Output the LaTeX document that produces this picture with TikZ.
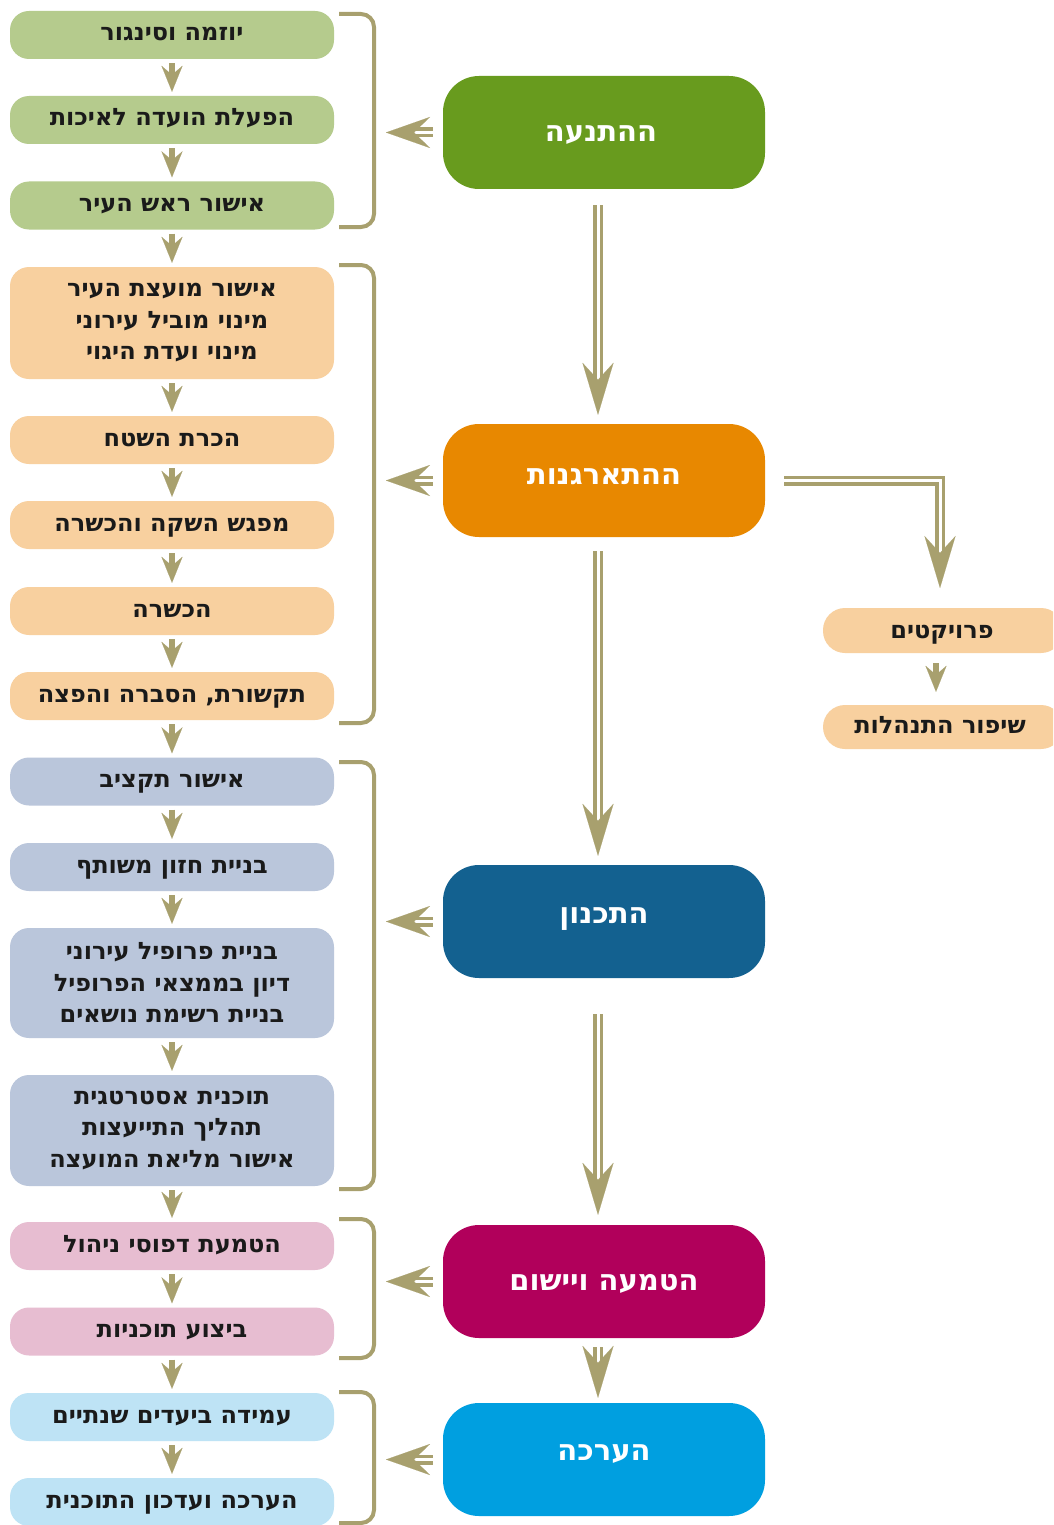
\documentclass[tikz,border=0pt]{standalone}
\usepackage{fontspec}
\usetikzlibrary{arrows.meta}
\TeXXeTstate=1
\newfontfamily\heb[Script=Hebrew]{DejaVu Sans}
\newcommand{\hebt}[1]{\beginR #1\endR}
\definecolor{lgreen}{HTML}{B5CB8D}
\definecolor{lorange}{HTML}{F8D09F}
\definecolor{lblue}{HTML}{BAC6DB}
\definecolor{lpink}{HTML}{E7BDD1}
\definecolor{lcyan}{HTML}{BEE3F5}
\definecolor{khaki}{HTML}{A8A06E}
\definecolor{mgreen}{HTML}{689B1E}
\definecolor{morange}{HTML}{E88800}
\definecolor{mblue}{HTML}{136190}
\definecolor{mmag}{HTML}{B1005B}
\definecolor{mcyan}{HTML}{009FE0}
\definecolor{txt}{HTML}{1A1A1A}
\begin{document}
\begin{tikzpicture}[x=1pt,y=-1pt,
  sbox/.style={rounded corners=19pt, minimum width=324pt, inner sep=0pt, draw=none,
    text=txt, font=\heb\bfseries\fontsize{24}{31.5}\selectfont, align=center},
  one/.style={sbox, minimum height=48pt, text height=12pt, text depth=0pt},
  three/.style={sbox, minimum height=#1},
  mbox/.style={rounded corners=36pt, minimum width=322pt, minimum height=113pt, inner sep=0pt},
  mtext/.style={anchor=base, text=white, font=\heb\bfseries\fontsize{29}{34}\selectfont, inner sep=0pt},
  pbox/.style={rounded corners=22pt, minimum width=240pt, inner sep=0pt, fill=lorange},
  ptext/.style={anchor=base, text=txt, font=\heb\bfseries\fontsize{24}{31.5}\selectfont, inner sep=0pt},
  smallarr/.style={draw=khaki, line width=6pt, shorten <=4pt, shorten >=4pt,
    -{Stealth[length=26pt, width=21pt, inset=9pt, line width=0.1pt]}},
  bigarr/.style={draw=khaki, double=white, double distance=3pt, line width=3.5pt,
    -{Stealth[length=52pt, width=31pt, inset=17pt, line width=0.1pt]}},
  leftarr/.style={draw=khaki, double=white, double distance=3pt, line width=3.5pt, shorten <=10pt,
    -{Stealth[length=44pt, width=31pt, inset=16pt, line width=0.1pt]}},
  brk/.style={draw=khaki, line width=4pt, rounded corners=13pt}
]
\clip (0,0) rectangle (1053,1525);
\fill[white] (0,0) rectangle (1053,1525);

% left column boxes
\node[one, fill=lgreen] (b1) at (172,35) {\hebt{יוזמה וסינגור}};
\node[one, fill=lgreen] (b2) at (172,120) {\hebt{הפעלת הועדה לאיכות}};
\node[one, fill=lgreen] (b3) at (172,205.5) {\hebt{אישור ראש העיר}};
\node[three=112pt, fill=lorange] (b4) at (172,323) {\hebt{אישור מועצת העיר}\\\hebt{מינוי מוביל עירוני}\\\hebt{מינוי ועדת היגוי}};
\node[one, fill=lorange] (b5) at (172,440) {\hebt{הכרת השטח}};
\node[one, fill=lorange] (b6) at (172,525) {\hebt{מפגש השקה והכשרה}};
\node[one, fill=lorange] (b7) at (172,611) {\hebt{הכשרה}};
\node[one, fill=lorange] (b8) at (172,696) {\hebt{תקשורת, הסברה והפצה}};
\node[one, fill=lblue] (b9) at (172,781.5) {\hebt{אישור תקציב}};
\node[one, fill=lblue] (b10) at (172,867) {\hebt{בניית חזון משותף}};
\node[three=110pt, fill=lblue] (b11) at (172,983) {\hebt{בניית פרופיל עירוני}\\\hebt{דיון בממצאי הפרופיל}\\\hebt{בניית רשימת נושאים}};
\node[three=111pt, fill=lblue] (b12) at (172,1130.5) {\hebt{תוכנית אסטרטגית}\\\hebt{תהליך התייעצות}\\\hebt{אישור מליאת המועצה}};
\node[one, fill=lpink] (b13) at (172,1246) {\hebt{הטמעת דפוסי ניהול}};
\node[one, fill=lpink] (b14) at (172,1331.5) {\hebt{ביצוע תוכניות}};
\node[one, fill=lcyan] (b15) at (172,1417) {\hebt{עמידה ביעדים שנתיים}};
\node[one, fill=lcyan] (b16) at (172,1502) {\hebt{הערכה ועדכון התוכנית}};

\foreach \a/\b in {b1/b2,b2/b3,b3/b4,b4/b5,b5/b6,b6/b7,b7/b8,b8/b9,b9/b10,b10/b11,b11/b12,b12/b13,b13/b14,b14/b15,b15/b16}
  \draw[smallarr] (\a) -- (\b);

% brackets
\draw[brk] (339,14) -- (374,14) -- (374,227) -- (339,227);
\draw[brk] (339,265) -- (374,265) -- (374,723) -- (339,723);
\draw[brk] (339,762) -- (374,762) -- (374,1189) -- (339,1189);
\draw[brk] (339,1219) -- (374,1219) -- (374,1358) -- (339,1358);
\draw[brk] (339,1392) -- (374,1392) -- (374,1523) -- (339,1523);

% main boxes
\node[mbox, fill=mgreen] (m1) at (604,132.5) {};
\node[mbox, fill=morange] (m2) at (604,480.5) {};
\node[mbox, fill=mblue] (m3) at (604,921.5) {};
\node[mbox, fill=mmag] (m4) at (604,1281.5) {};
\node[mbox, fill=mcyan] (m5) at (604,1459.5) {};
\node[mtext] (t1) at (601,142) {\hebt{ההתנעה}};
\node[mtext] (t2) at (604,484) {\hebt{ההתארגנות}};
\node[mtext] (t3) at (604,923) {\hebt{התכנון}};
\node[mtext] (t4) at (604,1290) {\hebt{הטמעה ויישום}};
\node[mtext] (t5) at (604,1460) {\hebt{הערכה}};

% vertical big arrows
\coordinate (ax) at (598,0);
\draw[bigarr, shorten <=16pt, shorten >=9pt] (m1.south -| ax) -- (m2.north -| ax);
\draw[bigarr, shorten <=14pt, shorten >=9pt] (m2.south -| ax) -- (m3.north -| ax);
\draw[bigarr, shorten <=36pt, shorten >=10pt] (m3.south -| ax) -- (m4.north -| ax);
\draw[bigarr, shorten <=9pt, shorten >=5pt] (m4.south -| ax) -- (m5.north -| ax);

% left arrows to brackets
\coordinate (lx) at (386,0);
\foreach \m in {m1,m2,m3,m4,m5}
  \draw[leftarr] (\m.west) -- (\m.west -| lx);

% projects branch
\node[pbox, minimum height=45pt] (p1) at (943,630.5) {};
\node[pbox, minimum height=44pt] (p2) at (943,727) {};
\node[ptext] (q1) at (942,638) {\hebt{פרויקטים}};
\node[ptext] (q2) at (940,733) {\hebt{שיפור התנהלות}};
\coordinate (pc) at (940,608);
\draw[bigarr, shorten <=19pt, shorten >=20pt] (m2.east) -| (pc);
\coordinate (pa) at (936,0);
\draw[smallarr, shorten <=10pt, shorten >=13pt] (p1.south -| pa) -- (p2.north -| pa);
\end{tikzpicture}
\end{document}
